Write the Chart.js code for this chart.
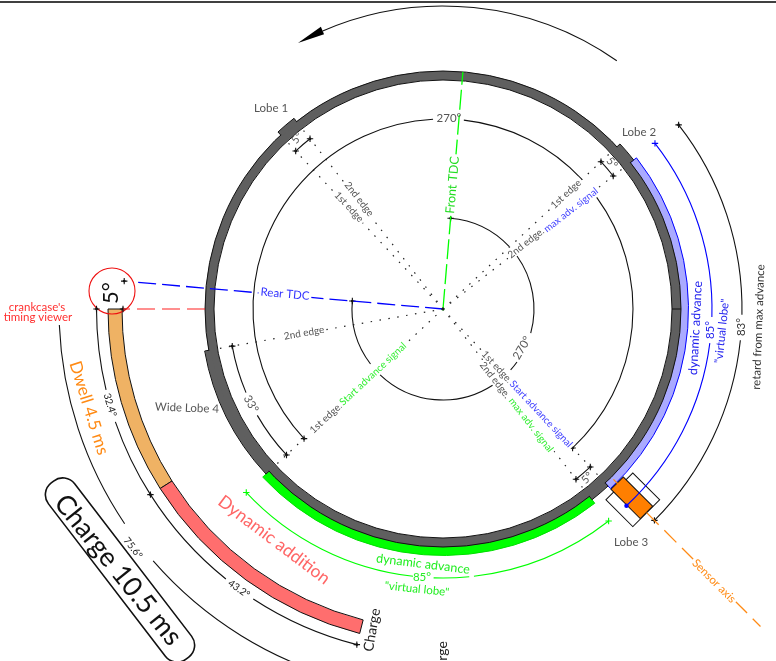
<!DOCTYPE html>
<html>
<head>
<meta charset="utf-8">
<title>Ignition timing diagram</title>
<script src="https://cdn.jsdelivr.net/npm/chart.js@4/dist/chart.umd.min.js"></script>
<style>
    html, body { margin: 0; padding: 0; background: #fff; }
    canvas { display: block; }
</style>
</head>
<body>
<canvas id="chart" width="776" height="661"></canvas>
<script>
// Values (degrees, 0 = 3 o'clock, counter-clockwise)
const lobeNames = ["Lobe 1", "Lobe 2", "Lobe 3", "Wide Lobe 4"];
const lobeStart = [128, 38, -52, 190];
const lobeSpan = [5, 5, 5, 33];
const frontTdc = 85.2;
const rearTdc = 175;
const sensorAxis = -45;
const viewerAxis = 180;
const dwellSpan = 32.4;
const chargeSpan = 43.2;
const totalSpan = 75.6;
const advanceSpan = 85;
const retardSpan = 83;
const dwellLabels = ["Dwell 4.5 ms", "Charge 10.5 ms", "Dynamic addition"];

// Layout of the drawing, in page pixels
const cx = 443, cy = 309;
const ringIn = 229, ringOut = 238, lobeOut = 242;
const bandOut = 245.5, greenOut = 246.5, dimLobe = 216, dimWide = 214;
const innerR = 91, midR = 190, advR = 269, retardR = 299, spinR = 303;
const crankIn = 321, crankOut = 335, crankDim = 346.5, crankTotal = 384;
const viewerEnd = 320;

const GREY = "#555", BLACK = "#111", BLUE = "#0000ff", GREEN = "#00ff00", ORANGE = "#ff8a14";
const FONT = "Lato, 'Open Sans', sans-serif";

const polar = (r, deg) => ({
    x: cx + r * Math.cos(deg * Math.PI / 180),
    y: cy - r * Math.sin(deg * Math.PI / 180)
});

function lineSet(points, color, width, dash) {
    return {
        data: points, showLine: true, borderColor: color, borderWidth: width,
        borderDash: dash || [], pointRadius: 0, fill: false, tension: 0
    };
}

function crossSet(points, color) {
    return {
        data: points, showLine: false, pointStyle: "cross", pointRadius: 3.2,
        pointBorderColor: color, pointBackgroundColor: color, pointBorderWidth: 1.1
    };
}

function dotSet(points, color, size) {
    return {
        data: points, showLine: false, pointStyle: "circle", pointRadius: size,
        pointBorderColor: color, pointBackgroundColor: color, pointBorderWidth: 0
    };
}

// Dotted edges of every lobe, from the centre out to the ring
const edgeLines = [];
lobeStart.forEach((a, i) => {
    [a, a + lobeSpan[i]].forEach(e => {
        edgeLines.push(lineSet([polar(0, e), polar(ringIn - 1, e)], "#222", 1.2, [1.5, 7.5]));
    });
});

const lobeCrosses = [];
lobeStart.forEach((a, i) => {
    const r = i === 3 ? dimWide : dimLobe;
    lobeCrosses.push(polar(r, a), polar(r, a + lobeSpan[i]));
});

const blackCrosses = [
    ...lobeCrosses,
    polar(innerR, frontTdc), polar(innerR, rearTdc),
    polar(midR, lobeStart[2] + lobeSpan[2]), polar(midR, lobeStart[3] + lobeSpan[3]),
    polar(retardR, lobeStart[1]), polar(retardR, lobeStart[1] - retardSpan),
    polar(viewerEnd, viewerAxis), polar(viewerEnd, rearTdc), polar(crankDim, viewerAxis),
    polar(crankDim, viewerAxis + dwellSpan), polar(crankDim, viewerAxis + totalSpan)
];

const datasets = [
    lineSet([{ x: 0, y: 2 }, { x: 776, y: 2 }], "#000", 1.5),
    ...edgeLines,
    lineSet([polar(0, frontTdc), polar(ringOut, frontTdc)], GREEN, 1.3, [20, 5]),
    lineSet([polar(0, rearTdc), polar(308, rearTdc)], BLUE, 1.3, [18, 6]),
    lineSet([polar(ringOut, viewerAxis), polar(viewerEnd, viewerAxis)], "#ff2020", 1.2, [18, 7]),
    lineSet([polar(241, sensorAxis), polar(247, sensorAxis)], ORANGE, 1.3),
    lineSet([polar(288, sensorAxis), polar(449, sensorAxis)], ORANGE, 1.3, [17, 8]),
    crossSet(blackCrosses, BLACK),
    dotSet(blackCrosses, BLACK, 1.4),
    crossSet([polar(advR, lobeStart[1])], BLUE),
    dotSet([polar(advR, lobeStart[1] - advanceSpan)], BLUE, 2.2),
    crossSet([polar(advR, lobeStart[3] + lobeSpan[3]), polar(advR, lobeStart[3] + lobeSpan[3] + advanceSpan)], GREEN),
    dotSet([polar(0, frontTdc)], "#00b000", 1.6)
];

// Thin dimension arcs: radius, from, to, colour, optional centre
const arcSegments = [
    [innerR, 85.5, 43.2, BLACK], [innerR, 35.6, -15.4, BLACK], [innerR, -35.6, -42, BLACK],
    [innerR, -57, -133.7, BLACK], [innerR, -142.8, -185.6, BLACK],
    [midR, 83.7, 42.9, BLACK], [midR, 36, -47, BLACK], [midR, 93, 223, BLACK],
    [dimLobe, 128, 133, BLACK], [dimLobe, 38, 43, BLACK], [dimLobe, -47, -52, BLACK],
    [dimWide, 190, 203, BLACK], [dimWide, 209.8, 223, BLACK],
    [advR, 38, -1.7, BLUE], [advR, -7.3, -47, BLUE],
    [retardR, 38, -1.1, BLACK], [retardR, -6, -45, BLACK],
    [advR, 222.9, 263.6, GREEN], [advR, 268, 275.6, GREEN], [advR, 276.6, 308, GREEN],
    [crankDim, 180, 193.5, BLACK], [crankDim, 199, 212.4, BLACK],
    [crankDim, 212.4, 231.2, BLACK], [crankDim, 236.8, 255.6, BLACK],
    [crankTotal, 182.4, 214, BLACK], [crankTotal, 221, 255.6, BLACK],
    [spinR, 55, 113.4, BLACK],
    [442, 255, 268.8, BLACK, 442, 1092], [442, 271.3, 285, BLACK, 442, 1092]
];

// Text: string, x, y, rotation, size, colour, knock out what is behind it
const textMarks = [
    [lobeNames[0], 271, 108, 0, 11.5, GREY], [lobeNames[1], 639, 132, 0, 11.5, GREY],
    [lobeNames[2], 631, 542, 0, 11.5, GREY], [lobeNames[3], 187, 408, 2, 11.5, GREY],
    ["270°", 449, 118, 0, 11.5, GREY], ["270°", 522, 348, -60, 11.5, GREY],
    ["33°", 251, 404, 60, 11.5, GREY],
    ["5°", 297, 138, -50, 11, GREY], ["5°", 612, 163, 50, 11, GREY], ["5°", 587, 478, -45, 11, GREY],
    ["2nd edge", 359, 199, 52, 10, GREY, true], ["1st edge", 349, 207, 47, 10, GREY, true],
    ["1st edge", 566, 194, -43, 10, GREY, true],
    ["2nd edge.", 526, 243, -38, 10, GREY, true], ["max adv. signal", 571, 210, -38, 10, "#4444ff", true],
    ["1st edge.", 497, 367, 47, 10, GREY, true], ["Start advance signal", 541, 414, 47, 10, "#4444ff", true],
    ["2nd edge.", 495, 380, 52, 10, GREY, true], ["max adv. signal", 531, 425, 52, 10, "#33ee33", true],
    ["2nd edge", 304, 333, -10, 10, GREY, true],
    ["1st edge.", 326, 418, -43, 10, GREY, true], ["Start advance signal", 373, 374, -43, 10, "#33ee33", true],
    ["Front TDC", 452.5, 185, -85, 12.5, "#22dd22", true],
    ["Rear TDC", 285, 294, 5, 11.5, "#3333ff", true],
    ["Sensor axis", 714, 581, 45, 11.5, ORANGE, true],
    ["dynamic advance", 695.5, 328, -87, 12.5, "#2222ee"],
    ["85°", 710, 330, -90, 11.5, "#2222ee"],
    ["\"virtual lobe\"", 722, 331, -84, 11.5, "#2222ee"],
    ["83°", 741, 327, -90, 11.5, "#333"],
    ["retard from max advance", 758.5, 327, -88, 11.5, "#333"],
    ["dynamic advance", 423, 564, 7, 12.5, "#22ee22"],
    ["85°", 422, 577, 0, 11.5, "#22ee22"],
    ["\"virtual lobe\"", 417, 589, 6, 11.5, "#22ee22"],
    ["crankcase's", 37, 307, 0, 11.5, "#ff3030"], ["timing viewer", 38, 317, 0, 11.5, "#ff3030"],
    ["5°", 111, 293, -90, 22, BLACK],
    ["32.4°", 110, 405, 73, 10, "#222"], ["43.2°", 239, 589, 35, 10, "#222"], ["75.6°", 133, 548, 52, 10, "#222"],
    [dwellLabels[0], 89, 408, 72.7, 17, ORANGE],
    [dwellLabels[1], 118, 570, 51, 27, BLACK],
    [dwellLabels[2], 274, 540, 37, 17.5, "#ff6666"],
    ["Charge", 372, 630, -80, 14, "#222"],
    ["Charge", 442, 663, -90, 14, "#222"],
    ["90° later →", 53, 668, 0, 16, "#222"],
    ["450°", 755, 670, 0, 19, "#222"]
];

const diagram = {
    id: "diagram",
    beforeDatasetsDraw(chart) {
        const { ctx, scales } = chart;
        const sx = v => scales.x.getPixelForValue(v);
        const sy = v => scales.y.getPixelForValue(v);
        const rad = d => -d * Math.PI / 180;

        const band = (r0, r1, a0, a1) => {
            ctx.beginPath();
            ctx.arc(sx(cx), sy(cy), r1, rad(a0), rad(a1), a1 > a0);
            ctx.arc(sx(cx), sy(cy), r0, rad(a1), rad(a0), a1 < a0);
            ctx.closePath();
        };
        const paintBand = (r0, r1, a0, a1, fill, stroke) => {
            band(r0, r1, a0, a1);
            ctx.fillStyle = fill;
            ctx.fill();
            if (stroke) {
                ctx.strokeStyle = stroke;
                ctx.lineWidth = 1;
                ctx.stroke();
            }
        };
        const box = (mx, my, w, h, deg, fill, round) => {
            ctx.save();
            ctx.translate(sx(mx), sy(my));
            ctx.rotate(deg * Math.PI / 180);
            ctx.beginPath();
            ctx.roundRect(-w / 2, -h / 2, w, h, round || 0);
            if (fill) {
                ctx.fillStyle = fill;
                ctx.fill();
            }
            ctx.strokeStyle = BLACK;
            ctx.lineWidth = round ? 1.6 : 1;
            ctx.stroke();
            ctx.restore();
        };

        ctx.save();

        // crank bands
        paintBand(crankIn, crankOut, viewerAxis, viewerAxis + dwellSpan, "#efb264", BLACK);
        paintBand(crankIn, crankOut, viewerAxis + dwellSpan, viewerAxis + dwellSpan + chargeSpan, "#ff6e6e", BLACK);

        // virtual lobes on the outside of the ring
        paintBand(ringOut - 1, bandOut, lobeStart[1], lobeStart[1] - advanceSpan, "#aaaaff", BLUE);
        paintBand(ringOut - 1, greenOut, lobeStart[3] + lobeSpan[3], lobeStart[3] + lobeSpan[3] + advanceSpan, GREEN, "#00dd00");

        // ring and lobes
        lobeStart.forEach((a, i) => paintBand(ringOut - 1, lobeOut, a, a + lobeSpan[i], "#5f5f5f", BLACK));
        ctx.beginPath();
        ctx.arc(sx(cx), sy(cy), ringOut, 0, Math.PI * 2);
        ctx.arc(sx(cx), sy(cy), ringIn, Math.PI * 2, 0, true);
        ctx.fillStyle = "#5f5f5f";
        ctx.fill();
        ctx.strokeStyle = BLACK;
        ctx.lineWidth = 1;
        ctx.stroke();
        lobeStart.forEach((a, i) => paintBand(ringOut - 2, lobeOut - 0.6, a + 0.15, a + lobeSpan[i] - 0.15, "#5f5f5f"));

        // sensor
        const sensor = polar(267, sensorAxis);
        box(sensor.x + 1, sensor.y + 2, 38, 38, 45, "#fff");
        box(sensor.x, sensor.y, 41.5, 17.5, 45, "#ff7f00");

        // thin arcs
        arcSegments.forEach(([r, a0, a1, color, ox, oy]) => {
            ctx.beginPath();
            ctx.arc(sx(ox === undefined ? cx : ox), sy(oy === undefined ? cy : oy), r, rad(a0), rad(a1), a1 > a0);
            ctx.strokeStyle = color;
            ctx.lineWidth = 1.1;
            ctx.stroke();
        });

        // rotation arrow head
        const tip = polar(spinR, 118.6), b1 = polar(307.5, 113.4), b2 = polar(299.5, 113.4);
        ctx.beginPath();
        ctx.moveTo(sx(tip.x), sy(tip.y));
        ctx.lineTo(sx(b1.x), sy(b1.y));
        ctx.lineTo(sx(b2.x), sy(b2.y));
        ctx.closePath();
        ctx.fillStyle = "#000";
        ctx.fill();

        // viewer window
        ctx.beginPath();
        ctx.arc(sx(112), sy(291), 23, 0, Math.PI * 2);
        ctx.strokeStyle = "#ee1111";
        ctx.lineWidth = 1.1;
        ctx.stroke();

        // charge box
        box(120, 570, 222, 33, 52.5, null, 15);

        ctx.restore();
    },
    afterDatasetsDraw(chart) {
        const { ctx, scales } = chart;
        textMarks.forEach(([str, x, y, deg, size, color, knock]) => {
            ctx.save();
            ctx.translate(scales.x.getPixelForValue(x), scales.y.getPixelForValue(y));
            ctx.rotate(deg * Math.PI / 180);
            ctx.font = size + "px " + FONT;
            ctx.textAlign = "center";
            ctx.textBaseline = "middle";
            if (knock) {
                const w = ctx.measureText(str).width;
                ctx.fillStyle = "#fff";
                ctx.fillRect(-w / 2 - 2, -size * 0.45, w + 4, size * 0.9);
            }
            ctx.fillStyle = color;
            ctx.fillText(str, 0, 0);
            ctx.restore();
        });
    }
};

new Chart(document.getElementById("chart").getContext("2d"), {
    type: "scatter",
    data: { datasets },
    options: {
        responsive: false,
        animation: false,
        layout: { padding: 0, autoPadding: false },
        plugins: { legend: { display: false }, tooltip: { enabled: false } },
        scales: {
            x: { type: "linear", display: false, min: 0, max: 776 },
            y: { type: "linear", display: false, min: 0, max: 661, reverse: true }
        }
    },
    plugins: [diagram]
});
</script>
</body>
</html>
